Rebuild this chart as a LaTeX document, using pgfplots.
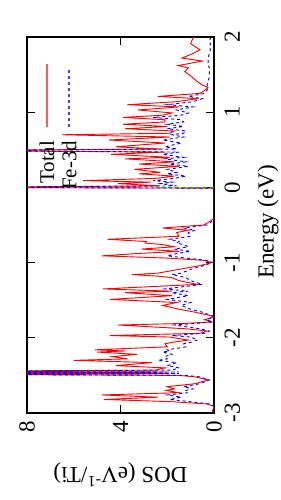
\documentclass[border=0pt]{standalone}
\usepackage{pgfplots}
\pgfplotsset{compat=1.18}
\usepackage{pgfplotstable}
\usepackage{fontspec}
\setmainfont{Liberation Serif}

\pgfplotstableread{
E tot fe
-3.00 0.10 0.05
-2.96 0.05 0.03
-2.91 0.00 0.00
-2.88 0.30 0.20
-2.85 1.80 1.00
-2.82 4.70 1.90
-2.79 2.40 1.40
-2.76 4.80 2.00
-2.73 1.50 1.10
-2.70 2.05 1.20
-2.68 1.70 0.90
-2.65 2.00 1.30
-2.61 0.80 0.60
-2.56 0.25 0.20
-2.52 0.80 0.60
-2.50 1.50 1.20
-2.485 12 12
-2.475 2.0 1.5
-2.465 12 12
-2.455 2.0 1.5
-2.445 12 12
-2.43 2.5 1.8
-2.40 2.10 1.50
-2.37 4.20 2.00
-2.33 2.65 1.60
-2.30 6.00 2.40
-2.28 3.70 2.00
-2.25 4.35 2.10
-2.22 3.30 1.80
-2.19 5.00 2.20
-2.175 3.80 1.90
-2.16 5.10 2.00
-2.12 2.00 1.20
-2.08 2.10 1.30
-2.06 1.80 1.00
-2.03 1.10 0.70
-1.99 1.90 1.00
-1.97 4.45 1.80
-1.94 0.60 0.40
-1.91 0.30 0.20
-1.88 1.20 0.60
-1.83 4.10 1.70
-1.81 1.40 0.80
-1.79 0.10 0.05
-1.76 0.40 0.30
-1.72 0.00 0.00
-1.71 0.10 0.05
-1.66 0.80 0.50
-1.62 1.50 1.00
-1.57 2.20 1.40
-1.53 1.60 1.00
-1.49 4.45 2.00
-1.44 1.80 1.10
-1.40 3.80 1.80
-1.38 1.80 1.10
-1.35 4.75 2.10
-1.29 0.70 0.50
-1.24 1.50 1.00
-1.20 1.80 1.20
-1.18 2.40 1.50
-1.16 3.50 1.80
-1.14 2.40 1.40
-1.09 1.50 1.00
-1.04 0.60 0.45
-1.00 0.10 0.05
-0.97 0.45 0.30
-0.94 2.00 1.20
-0.91 4.80 2.00
-0.88 3.30 1.60
-0.85 1.50 1.00
-0.82 3.10 1.70
-0.79 1.70 1.10
-0.76 2.20 1.30
-0.74 2.95 1.60
-0.72 2.90 1.50
-0.69 4.55 1.90
-0.65 1.50 1.00
-0.60 1.60 1.10
-0.57 1.10 0.80
-0.54 2.20 1.30
-0.50 0.45 0.30
-0.47 0.26 0.15
-0.41 0.00 0.00
-0.01 0.00 0.00
0.00 12 12
0.02 2.30 1.60
0.05 4.10 2.30
0.07 2.70 1.80
0.09 5.60 2.60
0.12 2.50 1.70
0.15 1.70 1.20
0.18 3.20 2.00
0.20 2.30 1.60
0.24 3.40 2.00
0.28 1.50 1.10
0.31 3.20 1.90
0.34 1.70 1.20
0.38 3.80 2.10
0.40 1.90 1.30
0.44 4.40 2.20
0.47 2.10 1.50
0.49 12 12
0.51 2.30 1.60
0.54 4.20 2.10
0.59 2.10 1.40
0.63 4.50 2.20
0.67 1.90 1.30
0.70 6.50 1.80
0.72 1.90 1.30
0.75 1.70 1.20
0.78 3.80 2.00
0.81 2.00 1.30
0.84 3.90 2.00
0.87 2.10 1.30
0.90 2.10 1.40
0.93 3.90 2.60
0.96 2.20 1.40
0.99 1.80 1.10
1.03 3.25 1.60
1.07 1.50 0.90
1.10 3.70 2.00
1.14 1.60 0.90
1.18 0.70 0.50
1.21 2.40 1.10
1.25 0.60 0.40
1.29 0.40 0.30
1.33 0.26 0.25
1.36 0.50 0.30
1.41 0.73 0.25
1.47 0.95 0.20
1.54 1.25 0.20
1.59 1.10 0.20
1.62 1.54 0.25
1.68 0.50 0.25
1.72 1.37 0.25
1.78 0.90 0.20
1.83 0.60 0.15
1.87 0.80 0.20
1.91 1.00 0.15
1.95 0.95 0.20
1.98 0.90 0.15
2.00 0.85 0.20
}\dos

\begin{document}
\begin{tikzpicture}
\begin{axis}[
  scale only axis, width=187pt, height=376pt,
  x dir=reverse, xmin=0, xmax=8, ymin=-3, ymax=2,
  xtick={0,4,8}, ytick={-3,-2,-1,0,1,2},
  yticklabel pos=right,
  tick align=inside, major tick length=8pt,
  font=\fontsize{23}{27}\selectfont,
  /pgf/number format/assume math mode=true,
  xticklabel style={yshift=-4pt, rotate=90, anchor=east},
  yticklabel style={xshift=7pt, rotate=90, anchor=north},
  xlabel={DOS (eV\textsuperscript{-1}/Ti)},
  ylabel={Energy (eV)},
  every axis x label/.style={at={(axis description cs:0.5,-0.165)}, anchor=center, rotate=180},
  every axis y label/.style={at={(axis description cs:1.289,0.508)}, anchor=center, rotate=90},
  axis line style={line width=1.2pt},
  every tick/.style={black, line width=1pt},
]
\addplot[red, line width=0.9pt] table[x=tot, y=E]{\dos};
\addplot[blue, line width=0.9pt, dash pattern=on 3pt off 3pt] table[x=fe, y=E]{\dos};
\addplot[green!70!black, dash pattern=on 4pt off 3pt, line width=1pt] coordinates {(0,0) (2.5,0)};
% legend key samples (gnuplot-style key, rotated with the figure)
\addplot[color={rgb,1:red,1;green,0.35;blue,0.35}, line width=1.3pt] coordinates {(7.14,0.80) (7.14,1.64)};
\addplot[color={rgb,1:red,0.25;green,0.25;blue,1}, line width=1.4pt, dash pattern=on 3pt off 3pt] coordinates {(6.20,0.80) (6.20,1.59)};
\node[rotate=90, anchor=east, inner sep=0pt, font=\fontsize{21}{25}\selectfont] at (axis description cs:0.107,0.724) {Total};
\node[rotate=90, anchor=east, inner sep=0pt, font=\fontsize{21}{25}\selectfont] at (axis description cs:0.225,0.724) {Fe-3d};
\coordinate (bbsw) at (axis description cs:-0.1444,-0.2314);
\coordinate (bbne) at (axis description cs:1.358,1.0984);
\end{axis}
\pgfresetboundingbox
\useasboundingbox (bbsw) rectangle (bbne);
\end{tikzpicture}
\end{document}
